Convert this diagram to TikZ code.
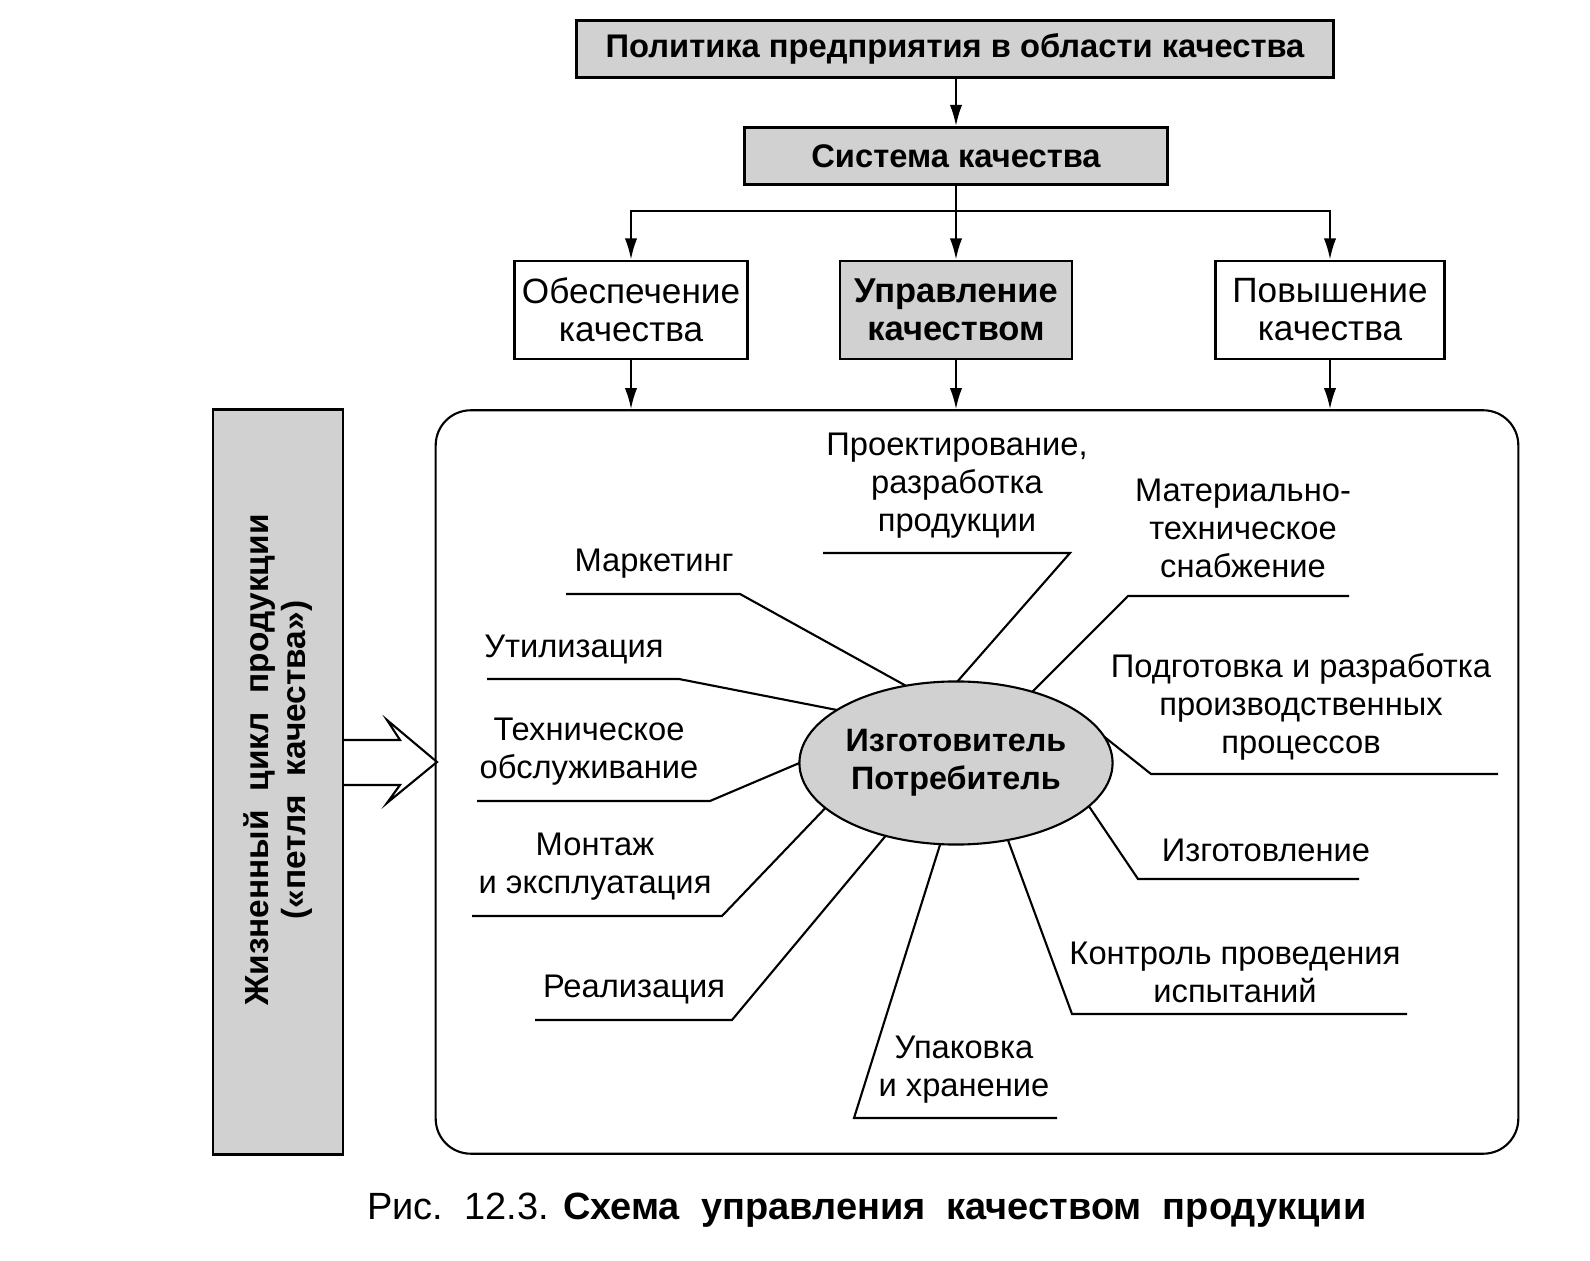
\documentclass[tikz,border=0pt]{standalone}
\usepackage{fontspec}
\setmainfont{Liberation Sans}
\usetikzlibrary{arrows.meta,shapes.geometric}

\tikzset{
  greybox/.style={draw,fill=black!18,line width=0.8pt,inner sep=0pt,align=center,
    font=\bfseries\fontsize{9.3}{10.8}\selectfont},
  whitebox/.style={draw,fill=white,line width=0.8pt,inner sep=0pt,align=center,
    font=\fontsize{10}{10.8}\selectfont},
  stage/.style={align=center,inner sep=0pt,font=\fontsize{9.3}{10.8}\selectfont},
  flow/.style={-{Latex[length=6pt,width=3.5pt]}},
}

\begin{document}
\begin{tikzpicture}[x=0.01cm,y=-0.01cm,line width=0.6pt]
\useasboundingbox (0,0) rectangle (1590,1261);

% upper boxes
\node[greybox,minimum width=7.57cm,minimum height=0.57cm] (policy) at (955,49)
  {Политика предприятия в области качества};
\node[greybox,minimum width=4.23cm,minimum height=0.57cm] (system) at (956,156)
  {Система качества};
\node[whitebox,minimum width=2.33cm,minimum height=0.98cm] (assure) at (631,310)
  {Обеспечение\\качества};
\node[greybox,font=\bfseries\fontsize{9.8}{10.8}\selectfont,
  minimum width=2.32cm,minimum height=0.98cm] (control) at (956,310)
  {Управление\\качеством};
\node[whitebox,minimum width=2.29cm,minimum height=0.98cm] (improve) at (1330,310)
  {Повышение\\качества};

\draw[flow] (system |- policy.south) -- (system);
\coordinate (fork) at (956,211);
\draw (system) -- (fork);
\draw[flow] (fork) -| (assure);
\draw[flow] (fork) -| (improve);
\draw[flow] (fork) -- (control);

% life cycle frame
\node[draw,rounded corners=0.35cm,minimum width=10.82cm,minimum height=7.43cm] (loop) at (977,782) {};
\draw[flow] (assure) -- (assure |- loop.north);
\draw[flow] (control) -- (control |- loop.north);
\draw[flow] (improve) -- (improve |- loop.north);

\node[draw,fill=black!18,line width=0.8pt,minimum width=1.30cm,minimum height=7.45cm] (lifebox) at (278,782) {};
\node[rotate=90,align=center,font=\bfseries\fontsize{9.5}{10.5}\selectfont] (lifetext) at (278,760)
  {Жизненный\ \ цикл\ \ продукции\\(«петля\ \ качества»)};
% hollow arrow
\draw (343,740) -- (400,740) -- (387,720) -- (437,762) -- (387,803) -- (400,785) -- (343,785);

\node[ellipse,draw,fill=black!18,outer sep=0pt,inner sep=0pt,minimum width=3.13cm,minimum height=1.63cm,
  font=\bfseries\fontsize{9.2}{10.8}\selectfont,align=center] (hub) at (956,763)
  {Изготовитель\\Потребитель};

% stages of the loop
\node[stage] (design) at (957,486) {Проектирование,\\разработка\\продукции};
\coordinate (design-a) at (823,553);
\coordinate (design-b) at (1070,553);
\draw (design-a) -- (design-b) -- (hub.89);

\node[stage] (marketing) at (654,564) {Маркетинг};
\coordinate (marketing-a) at (566,594);
\coordinate (marketing-b) at (740,594);
\draw (marketing-a) -- (marketing-b) -- (hub.123);

\node[stage] (disposal) at (574,650) {Утилизация};
\coordinate (disposal-a) at (487,679);
\coordinate (disposal-b) at (679,679);
\draw (disposal-a) -- (disposal-b) -- (hub.156);

\node[stage] (service) at (589,752) {Техническое\\обслуживание};
\coordinate (service-a) at (477,801);
\coordinate (service-b) at (710,801);
\draw (service-a) -- (service-b) -- (hub.180);

\node[stage] (mounting) at (595,867) {Монтаж\\и эксплуатация};
\coordinate (mounting-a) at (472,916);
\coordinate (mounting-b) at (722,916);
\draw (mounting-a) -- (mounting-b) -- (hub.199);

\node[stage] (sales) at (634,990) {Реализация};
\coordinate (sales-a) at (535,1020);
\coordinate (sales-b) at (732,1020);
\draw (sales-a) -- (sales-b) -- (hub.226);

\node[stage] (packing) at (964,1070) {Упаковка\\и хранение};
\coordinate (packing-a) at (854,1118);
\coordinate (packing-b) at (1057,1118);
\draw (packing-b) -- (packing-a) -- (hub.259);

\node[stage] (testing) at (1235,972) {Контроль проведения\\испытаний};
\coordinate (testing-a) at (1072,1014);
\coordinate (testing-b) at (1407,1014);
\draw (testing-b) -- (testing-a) -- (hub.304);

\node[stage] (making) at (1266,850) {Изготовление};
\coordinate (making-a) at (1138,879);
\coordinate (making-b) at (1359,879);
\draw (making-b) -- (making-a) -- (hub.342);

\node[stage] (preparation) at (1301,707) {Подготовка и разработка\\производственных\\процессов};
\coordinate (preparation-a) at (1151,774);
\coordinate (preparation-b) at (1498,774);
\draw (preparation-b) -- (preparation-a) -- (hub.10);

\node[stage] (supply) at (1243,528) {Материально-\\техническое\\снабжение};
\coordinate (supply-a) at (1128,596);
\coordinate (supply-b) at (1349,596);
\draw (supply-b) -- (supply-a) -- (hub.43);

\node[font=\fontsize{10.8}{12}\selectfont] (caption) at (867,1210)
  {Рис.\ \ 12.3. \textbf{Схема\ \ управления\ \ качеством\ \ продукции}};
\end{tikzpicture}
\end{document}
